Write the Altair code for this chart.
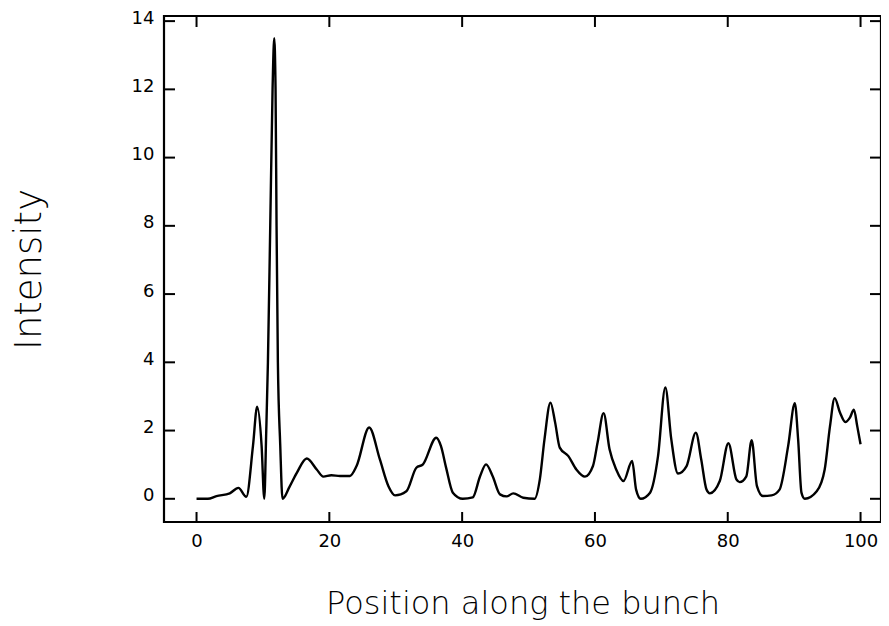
import altair as alt
import pandas as pd

position = [0, 1, 1.7, 3, 5, 6.3, 7.5, 8.5, 9.13, 9.8, 10.2, 10.5, 10.75, 11.1, 11.45, 11.7,
            11.9, 12.05, 12.25, 12.6, 12.95, 14, 15.1, 16.6, 18.1, 19.1, 20.3, 21.6, 23.1, 24.1,
            26.0, 27.6, 28.9, 29.9, 31.6, 33.1, 34.1, 36.1, 36.8, 37.6, 38.6, 40.1, 41.6, 42.7,
            43.6, 44.6, 45.7, 46.7, 47.7, 49.2, 50.9, 51.7, 52.4, 53.3, 54.0, 54.7, 56.0, 57.2,
            58.5, 59.7, 60.4, 61.3, 62.2, 63.2, 64.3, 65.6, 66.2, 66.9, 68.3, 69.5, 70.6, 71.5,
            72.5, 73.8, 75.2, 76.0, 76.8, 77.3, 78.8, 80.1, 81.3, 81.8, 82.8, 83.6, 84.4, 85.3,
            86.6, 87.8, 89.1, 90.1, 90.6, 91.1, 91.6, 93.4, 94.6, 95.4, 96.1, 96.9, 97.7, 98.4,
            99.0, 99.5, 100]
intensity = [0.0, 0.0, 0.0, 0.08, 0.16, 0.32, 0.06, 1.55, 2.7, 1.55, 0.0, 2.0, 4.0, 8.0, 12.0, 13.5,
             12.0, 8.0, 4.0, 1.6, 0.0, 0.35, 0.76, 1.18, 0.86, 0.65, 0.69, 0.67, 0.67, 0.96,
             2.09, 1.16, 0.37, 0.1, 0.22, 0.91, 1.01, 1.79, 1.55, 0.9, 0.18, 0.0, 0.04, 0.66,
             1.01, 0.66, 0.13, 0.07, 0.16, 0.03, 0.0, 0.57, 1.74, 2.82, 2.24, 1.5, 1.25, 0.86,
             0.65, 0.96, 1.65, 2.51, 1.45, 0.86, 0.52, 1.11, 0.27, 0.0, 0.18, 1.25, 3.26, 1.74,
             0.74, 0.96, 1.94, 1.16, 0.27, 0.16, 0.52, 1.63, 0.57, 0.49, 0.66, 1.72, 0.37, 0.08,
             0.1, 0.27, 1.55, 2.8, 1.74, 0.18, 0.0, 0.22, 0.86, 2.13, 2.95, 2.53, 2.25, 2.38,
             2.61, 2.13, 1.6]

x_ticks = [0, 20, 40, 60, 80, 100]
y_ticks = [0, 2, 4, 6, 8, 10, 12, 14]

W, H = 717, 506
TL = 11

df = pd.DataFrame({"pos": position, "val": intensity})
dfx = pd.DataFrame({"pos": x_ticks})
dfy = pd.DataFrame({"val": y_ticks})

xscale = alt.Scale(domain=[-4.9, 103.08], nice=False, zero=False)
yscale = alt.Scale(domain=[-0.68, 14.15], nice=False, zero=False)

xaxis = alt.Axis(values=x_ticks, tickSize=0, domain=False, grid=False,
                 labelFont="DejaVu Sans", labelFontSize=18, labelColor="black",
                 labelPadding=10, title="Position along the bunch",
                 titleFont="DejaVu Sans", titleFontSize=32, titleFontWeight=300,
                 titleColor="black", titleBaseline="alphabetic", titleY=91)
yaxis = alt.Axis(values=y_ticks, tickSize=0, domain=False, grid=False,
                 labelFont="DejaVu Sans", labelFontSize=18, labelColor="black",
                 labelPadding=10, labelBaseline="alphabetic", labelOffset=2,
                 title="Intensity",
                 titleFont="DejaVu Sans", titleFontSize=37, titleFontWeight=200,
                 titleColor="black", titleAngle=270, titleBaseline="alphabetic",
                 titleAlign="center", titleX=-124, titleY=H / 2)

X = alt.X("pos:Q", scale=xscale, axis=xaxis)
Y = alt.Y("val:Q", scale=yscale, axis=yaxis)

line = alt.Chart(df).mark_line(color="black", strokeWidth=2.4, interpolate="monotone").encode(
    x=X, y=Y,
)

left_t = alt.Chart(dfy).mark_rule(color="black", strokeWidth=2).encode(
    y=Y, x=alt.value(0), x2=alt.value(TL))
right_t = alt.Chart(dfy).mark_rule(color="black", strokeWidth=2).encode(
    y=Y, x=alt.value(W - TL), x2=alt.value(W))
bot_t = alt.Chart(dfx).mark_rule(color="black", strokeWidth=2).encode(
    x=X, y=alt.value(H - 10), y2=alt.value(H))
top_t = alt.Chart(dfx).mark_rule(color="black", strokeWidth=2).encode(
    x=X, y=alt.value(0), y2=alt.value(TL))

chart = alt.layer(line, left_t, right_t, bot_t, top_t).properties(
    width=W, height=H,
    autosize=alt.AutoSizeParams(type="none"),
    padding={"left": 156, "top": 8, "right": 0, "bottom": 100},
).configure(background="white").configure_view(stroke="black", strokeWidth=2.2)

chart.save("out.html", embed_options={"renderer": "svg", "actions": False})
